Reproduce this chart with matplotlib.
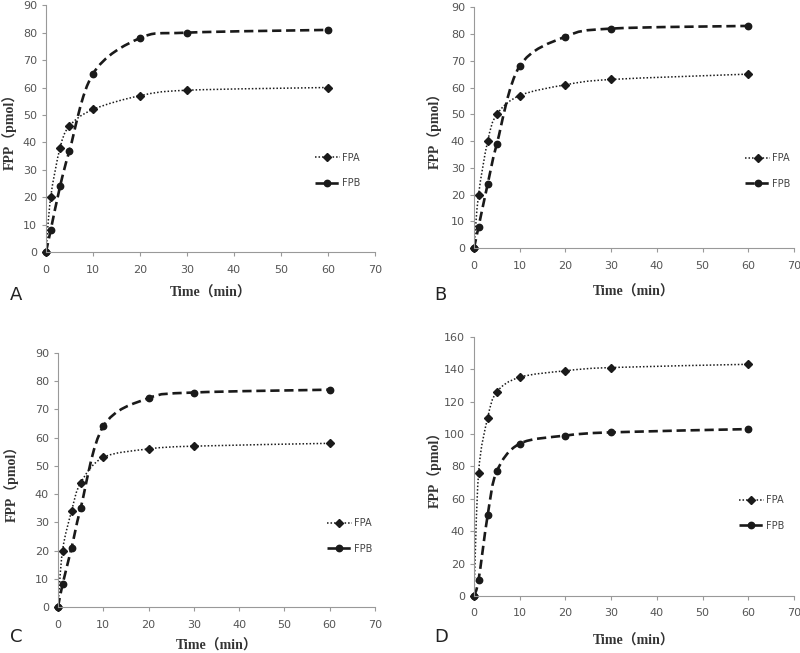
import matplotlib
matplotlib.use('Agg')
import matplotlib.pyplot as plt
import numpy as np
from matplotlib.path import Path
from matplotlib.patches import PathPatch
from matplotlib.lines import Line2D

# sampling times (min)
time = [0, 1, 3, 5, 10, 20, 30, 60]

# FPP (pmol)
fpa_a = [0, 20, 38, 46, 52, 57, 59, 60]
fpb_a = [0, 8, 24, 37, 65, 78, 80, 81]
fpa_b = [0, 20, 40, 50, 57, 61, 63, 65]
fpb_b = [0, 8, 24, 39, 68, 79, 82, 83]
fpa_c = [0, 20, 34, 44, 53, 56, 57, 58]
fpb_c = [0, 8, 21, 35, 64, 74, 76, 77]
fpa_d = [0, 76, 110, 126, 135, 139, 141, 143]
fpb_d = [0, 10, 50, 77, 94, 99, 101, 103]

panel_letters = ['A', 'B', 'C', 'D']
y_max = [90, 90, 90, 160]
y_step = [10, 10, 10, 20]

LABEL_FONT = ['Liberation Serif', 'Noto Sans CJK SC']
INK = '#1a1a1a'
GREY = '#555555'


def smooth_path(x, y):
    # excel-style smoothed line: catmull-rom segments as cubic beziers
    pts = np.column_stack([x, y]).astype(float)
    n = len(pts)
    verts = [pts[0]]
    codes = [Path.MOVETO]
    for i in range(n - 1):
        p0 = pts[i - 1] if i > 0 else pts[i]
        p1 = pts[i]
        p2 = pts[i + 1]
        p3 = pts[i + 2] if i + 2 < n else pts[i + 1]
        c1 = p1 + (p2 - p0) / 6.0
        c2 = p2 - (p3 - p1) / 6.0
        verts += [c1, c2, p2]
        codes += [Path.CURVE4] * 3
    return Path(verts, codes)


def draw_panel(ax, fpa, fpb, ymax, ystep, leg_pos, ylab_x, xlab_y):
    ax.add_patch(PathPatch(smooth_path(time, fpa), fill=False, edgecolor=INK,
                           lw=1.1, linestyle=(0, (1, 1.3))))
    ax.add_patch(PathPatch(smooth_path(time, fpb), fill=False, edgecolor=INK,
                           lw=1.9, linestyle=(0, (3.5, 1.8))))
    ax.plot(time, fpa, ls='none', marker='D', ms=3.8, color=INK, clip_on=False)
    ax.plot(time, fpb, ls='none', marker='o', ms=4.6, color=INK, clip_on=False)

    ax.set_xlim(0, 70)
    ax.set_ylim(0, ymax)
    ax.set_xticks(np.arange(0, 71, 10))
    ax.set_yticks(np.arange(0, ymax + 1, ystep))
    for s in ['top', 'right']:
        ax.spines[s].set_visible(False)
    for s in ['left', 'bottom']:
        ax.spines[s].set_color('#999999')
        ax.spines[s].set_linewidth(0.8)
    ax.tick_params(axis='both', colors='#999999', labelcolor=GREY,
                   labelsize=8, length=3, width=0.8, direction='out')
    ax.tick_params(axis='x', pad=6)

    ax.set_xlabel('Time（min）', family=LABEL_FONT, fontweight='bold',
                  fontsize=10, color='#333333')
    ax.set_ylabel('FPP（pmol）', family=LABEL_FONT, fontweight='bold',
                  fontsize=10, color='#333333')
    ax.xaxis.set_label_coords(0.5, xlab_y)
    ax.yaxis.set_label_coords(ylab_x, 0.5)

    handles = [
        Line2D([], [], color=INK, lw=1.1, ls=(0, (1, 1.3)), marker='D', ms=3.8),
        Line2D([], [], color=INK, lw=1.9, ls=(0, (3.5, 1.8)), marker='o', ms=4.6),
    ]
    ax.legend(handles, ['FPA', 'FPB'], loc='center left', bbox_to_anchor=leg_pos,
              frameon=False, fontsize=7, labelspacing=1.6, handlelength=2.6,
              handletextpad=0.2, labelcolor='#444444')


fig = plt.figure(figsize=(8, 6.53), dpi=100)

boxes = [
    [0.0575, 0.614, 0.411, 0.378],
    [0.5925, 0.620, 0.400, 0.369],
    [0.0725, 0.0704, 0.396, 0.389],
    [0.5925, 0.0873, 0.400, 0.397],
]
legend_pos = [(0.79, 0.33), (0.82, 0.32), (0.82, 0.28), (0.80, 0.32)]
ylabel_x = [-0.09, -0.10, -0.125, -0.10]
xlabel_y = [-0.138, -0.154, -0.125, -0.148]
letter_pos = [(0.012, 0.54), (0.543, 0.54), (0.012, 0.017), (0.543, 0.017)]
series = [(fpa_a, fpb_a), (fpa_b, fpb_b), (fpa_c, fpb_c), (fpa_d, fpb_d)]

for i in range(4):
    ax = fig.add_axes(boxes[i])
    draw_panel(ax, series[i][0], series[i][1], y_max[i], y_step[i],
               legend_pos[i], ylabel_x[i], xlabel_y[i])
    fig.text(letter_pos[i][0], letter_pos[i][1], panel_letters[i],
             fontsize=13, color='#222222', family='DejaVu Sans')

fig.savefig('out.png', dpi=100, facecolor='white')
